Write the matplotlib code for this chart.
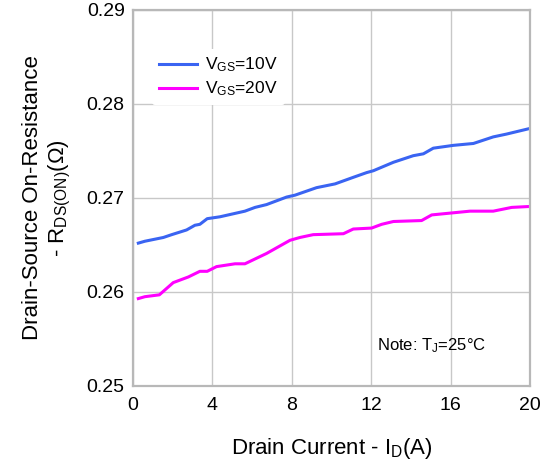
import matplotlib.pyplot as plt

plt.rcParams['font.family'] = ['Liberation Sans', 'DejaVu Sans']
plt.rcParams['mathtext.fontset'] = 'custom'
plt.rcParams['mathtext.rm'] = 'Liberation Sans'
plt.rcParams['mathtext.it'] = 'Liberation Sans'

# drain current (A) and on-resistance (ohm)
id_10v = [0.27, 0.60, 1.53, 1.95, 2.70, 3.12, 3.37, 3.74, 4.38, 5.64, 6.15, 6.73,
          7.74, 8.16, 9.25, 10.18, 11.10, 11.77, 12.11, 13.12, 14.12, 14.63, 15.13,
          16.14, 17.15, 18.15, 18.82, 20.0]
r_10v = [0.2652, 0.2654, 0.2658, 0.2661, 0.2666, 0.2671, 0.2672, 0.2678, 0.2680,
         0.2686, 0.2690, 0.2693, 0.2701, 0.2703, 0.2711, 0.2715, 0.2722, 0.2727,
         0.2729, 0.2738, 0.2745, 0.2747, 0.2753, 0.2756, 0.2758, 0.2765, 0.2768,
         0.2774]

id_20v = [0.27, 0.60, 1.33, 2.03, 2.79, 3.37, 3.74, 4.21, 5.14, 5.64, 6.73, 7.91,
          8.41, 9.08, 10.60, 11.10, 12.02, 12.53, 13.12, 14.54, 15.05, 16.98, 18.15,
          19.08, 20.0]
r_20v = [0.2593, 0.2595, 0.2597, 0.2610, 0.2616, 0.2622, 0.2622, 0.2627, 0.2630,
         0.2630, 0.2641, 0.2655, 0.2658, 0.2661, 0.2662, 0.2667, 0.2668, 0.2672,
         0.2675, 0.2676, 0.2682, 0.2686, 0.2686, 0.2690, 0.2691]

fig = plt.figure(figsize=(5.41, 4.65), dpi=100)
ax = fig.add_axes([0.2458, 0.1699, 0.7338, 0.8086])

ax.plot(id_10v, r_10v, color='#3a64f2', lw=2.2, label='V$_{\\rm GS}$=10V')
ax.plot(id_20v, r_20v, color='#ff00ff', lw=2.2, label='V$_{\\rm GS}$=20V')

ax.set_xlim(0, 20)
ax.set_ylim(0.25, 0.29)
ax.set_xticks([0, 4, 8, 12, 16, 20])
ax.set_yticks([0.25, 0.26, 0.27, 0.28, 0.29])
ax.set_yticklabels(['0.25', '0.26', '0.27', '0.28', '0.29'])
ax.tick_params(length=0, labelsize=14)
ax.tick_params(axis='x', pad=8)
ax.tick_params(axis='y', pad=6)
ax.grid(True, color='#c8c8c8', lw=1)
for s in ax.spines.values():
    s.set_color('#b8b8b8')
    s.set_linewidth(1.6)

ax.set_xlabel('Drain Current - I$_{\\rm D}$(A)', fontsize=16, labelpad=16)
ax.set_ylabel('Drain-Source On-Resistance\n- R$_{\\rm DS(ON)}$(Ω)', fontsize=16, labelpad=10)

leg = ax.legend(loc='upper left', bbox_to_anchor=(0.025, 0.92), fontsize=12.5,
                frameon=True, framealpha=1, handlelength=2.2, handletextpad=0.5,
                labelspacing=0.3)
leg.get_frame().set_edgecolor('none')

ax.text(0.615, 0.095, 'Note: T$_{\\rm J}$=25°C', transform=ax.transAxes, fontsize=12)

fig.savefig('out.png', dpi=100)
